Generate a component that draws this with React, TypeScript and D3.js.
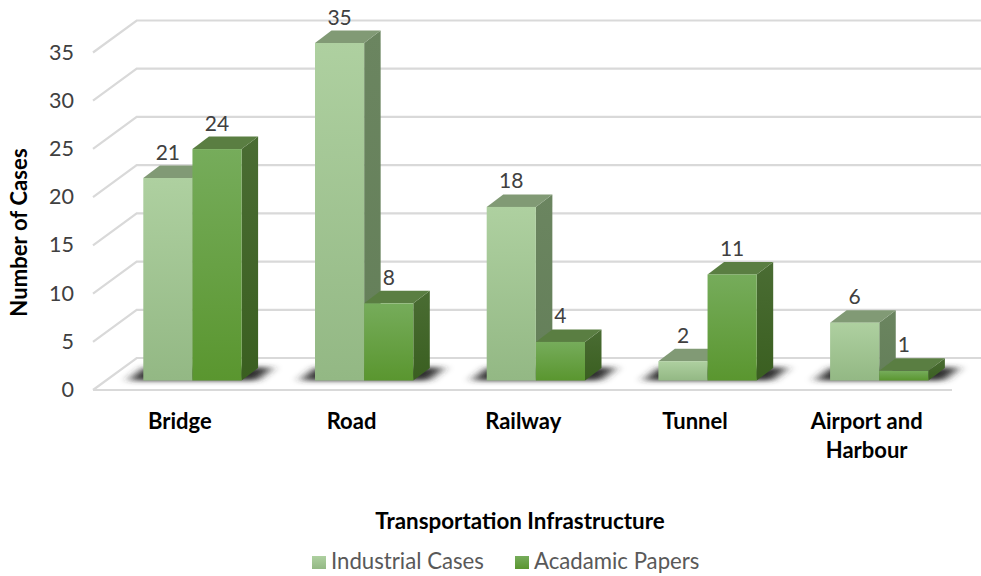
import React from "react";
import * as d3 from "d3";

const categories = ["Bridge", "Road", "Railway", "Tunnel", "Airport and Harbour"];
const categoryLines = [["Bridge"], ["Road"], ["Railway"], ["Tunnel"], ["Airport and", "Harbour"]];
const industrialCases = [21, 35, 18, 2, 6];
const academicPapers = [24, 8, 4, 11, 1];
const seriesNames = ["Industrial Cases", "Acadamic Papers"];
const yTicks = [0, 5, 10, 15, 20, 25, 30, 35];

const FONT = "Lato, Carlito, 'Open Sans', sans-serif";

// Oblique projection offsets of the 3D column chart
const BAR_DX = 16.5;
const BAR_DY = 12.5;
const WALL_DX = 43.7;
const WALL_BACK = 22.5;
const WALL_FRONT = 9.5;

const x0 = d3.scaleBand<string>().domain(categories).range([94, 952.5]);
const x1 = d3.scaleBand<string>().domain(seriesNames).range([49.3, 147.6]);
const y = d3.scaleLinear().domain([0, 35]).range([380.5, 43]);

const palette = [
  { id: "lightFront", top: "#aed0a0", bottom: "#93b884", side: "#6b8560", sideLow: "#647f59" },
  { id: "darkFront", top: "#76ac5b", bottom: "#5a962f", side: "#4a6c33", sideLow: "#3a5f20" },
];
const capColours = ["#819a75", "#5a7e42"];

const polygon = (pts: [number, number][]) => pts.map((p) => p.join(",")).join(" ");

function Bar({ x, w, value, s }: { x: number; w: number; value: number; s: number }) {
  const top = y(value);
  const base = y(0);
  const right = x + w;
  return (
    <g>
      <polygon
        points={polygon([
          [right, top],
          [right + BAR_DX, top - BAR_DY],
          [right + BAR_DX, base - BAR_DY],
          [right, base],
        ])}
        fill={`url(#side${s})`}
      />
      <polygon
        points={polygon([
          [x, top],
          [x + BAR_DX, top - BAR_DY],
          [right + BAR_DX, top - BAR_DY],
          [right, top],
        ])}
        fill={capColours[s]}
      />
      <rect x={x} y={top} width={w} height={base - top} fill={`url(#${palette[s].id})`} />
    </g>
  );
}

export default function App() {
  const series = [industrialCases, academicPapers];
  const w = x1.bandwidth();
  return (
    <svg
      width={981}
      height={576}
      viewBox="0 0 981 576"
      style={{ position: "absolute", left: 0, top: 0, background: "#fff" }}
      fontFamily={FONT}
    >
      <defs>
        {palette.map((p, i) => (
          <React.Fragment key={p.id}>
            <linearGradient id={p.id} x1="0" y1="0" x2="0" y2="1">
              <stop offset="0" stopColor={p.top} />
              <stop offset="1" stopColor={p.bottom} />
            </linearGradient>
            <linearGradient id={`side${i}`} x1="0" y1="0" x2="0" y2="1">
              <stop offset="0" stopColor={p.side} />
              <stop offset="1" stopColor={p.sideLow} />
            </linearGradient>
          </React.Fragment>
        ))}
        <filter id="floorShadow" x="-20%" y="-80%" width="140%" height="260%">
          <feGaussianBlur stdDeviation="5.5 2.4" />
        </filter>
      </defs>

      {/* Back wall, side wall and floor rules */}
      <g stroke="#d9d9d9" strokeWidth={2.2} fill="none">
        {yTicks.map((t) => (
          <polyline
            key={t}
            points={polygon([
              [93, y(t) + WALL_FRONT],
              [93 + WALL_DX, y(t) - WALL_BACK],
              [981, y(t) - WALL_BACK],
            ])}
          />
        ))}
        <line x1={93} x2={952} y1={y(0) + WALL_FRONT} y2={y(0) + WALL_FRONT} />
      </g>

      {/* Soft shadows cast on the floor */}
      <g filter="url(#floorShadow)" fill="#2e2e2e">
        {categories.map((c) => {
          const left = x0(c)! + x1.range()[0];
          const right = x0(c)! + x1.range()[1];
          return (
            <polygon
              key={c}
              points={polygon([
                [left - 15, y(0)],
                [left + 1, y(0) - 13],
                [right + 31, y(0) - 13],
                [right + 15, y(0)],
              ])}
            />
          );
        })}
      </g>

      {/* Columns */}
      {categories.map((c, i) => (
        <g key={c}>
          {seriesNames.map((n, s) => (
            <Bar key={n} x={x0(c)! + x1(n)!} w={w} value={series[s][i]} s={s} />
          ))}
        </g>
      ))}

      {/* Value labels */}
      <g fontSize={21} fill="#404040" textAnchor="middle">
        {categories.map((c, i) =>
          seriesNames.map((n, s) => (
            <text
              key={n}
              x={x0(c)! + x1(n)! + w / 2}
              y={y(series[s][i]) - BAR_DY - 6}
            >
              {series[s][i]}
            </text>
          ))
        )}
      </g>

      {/* Value axis labels */}
      <g fontSize={21.5} fill="#404040" textAnchor="end">
        {yTicks.map((t) => (
          <text key={t} x={74} y={y(t) + WALL_FRONT + 7}>
            {t}
          </text>
        ))}
      </g>

      {/* Category labels */}
      <g fontSize={22} fontWeight={700} fill="#000" textAnchor="middle">
        {categories.map((c, i) =>
          categoryLines[i].map((line, k) => (
            <text key={line} x={x0(c)! + x0.bandwidth() / 2} y={428.5 + k * 29}>
              {line}
            </text>
          ))
        )}
      </g>

      {/* Axis titles */}
      <text
        transform="translate(27,232.5) rotate(-90)"
        fontSize={22}
        fontWeight={700}
        letterSpacing={0.1}
        textAnchor="middle"
        fill="#000"
      >
        Number of Cases
      </text>
      <text x={520} y={528.5} fontSize={22.4} fontWeight={700} textAnchor="middle" fill="#000">
        Transportation Infrastructure
      </text>

      {/* Legend */}
      {seriesNames.map((n, s) => {
        const sx = [312, 515][s];
        return (
          <g key={n}>
            <rect x={sx} y={556} width={14} height={13} fill={`url(#${palette[s].id})`} />
            <text x={sx + 19} y={569} fontSize={22.2} fill="#595959">
              {n}
            </text>
          </g>
        );
      })}
    </svg>
  );
}
